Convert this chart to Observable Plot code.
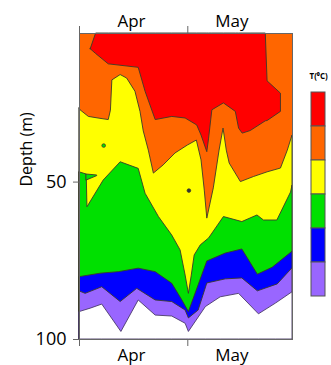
<!DOCTYPE html>
<html><head><meta charset="utf-8">
<script src="https://cdn.jsdelivr.net/npm/d3@7"></script>
<script src="https://cdn.jsdelivr.net/npm/@observablehq/plot@0.6"></script>
<style>
html,body{margin:0;padding:0;background:#fff;overflow:hidden;}
#wrap{position:relative;width:331px;height:365px;}
</style></head><body><div id="wrap"></div>
<script>
// x = days since 1 April, y = depth (m)
const depthDomain = [2.8, 100];
const dayDomain = [0, 59];
const monthStarts = [0, 30];
const monthMid = [14.4, 42.2];
const monthLabels = ["Apr", "May"];
const depthTicks = [50, 100];

// class colours, warmest (top of legend) to coolest
const classColors = ["#ff0000", "#ff6600", "#ffff00", "#00e000", "#0000ff", "#9966ff"];

// warmest (red) region: top and bottom depth along time
const redDay    = [3.1, 4.6, 8.1, 16.4, 18.3, 21.1, 25.7, 29.4, 32.6, 33.8, 35.4, 35.9, 36.8, 40.0, 43.3, 44.2, 45.2, 47.4, 51.6, 52.1, 55.8];
const redTop    = [7.8, 2.8, 2.8, 2.8, 2.8, 2.8, 2.8, 2.8, 2.8, 2.8, 2.8, 2.8, 2.8, 2.8, 2.8, 2.8, 2.8, 2.8, 2.8, 18.0, 21.9];
const redBottom = [7.8, 9.3, 12.6, 13.7, 21.3, 30.3, 29.3, 29.8, 32.0, 35.2, 40.5, 36.2, 27.2, 25.0, 27.7, 33.0, 34.6, 33.8, 30.7, 30.6, 27.7];

// orange / yellow isotherm depth
const yelDay   = [0, 0.3, 2.6, 5.8, 8.1, 8.7, 9.1, 11.4, 13.2, 15.5, 16.9, 17.8, 19.2, 20.6, 23.3, 26.6, 30.0, 32.5, 33.8, 34.7, 35.4, 37.2, 38.8, 39.9, 40.8, 41.6, 44.7, 48.3, 52.1, 55.8, 57.7, 59.0];
const yelDepth = [26.6, 27.2, 29.3, 29.9, 30.3, 27.3, 17.7, 16.0, 17.1, 21.3, 27.7, 33.9, 40.0, 47.3, 44.7, 40.9, 38.4, 36.8, 43.1, 52.7, 61.6, 52.0, 40.0, 33.0, 40.0, 44.1, 50.0, 48.4, 46.9, 45.7, 40.0, 35.2];

// yellow / green isotherm depth
const grnDay   = [0, 2.0, 2.2, 6.7, 11.4, 16.4, 18.3, 22.0, 25.7, 28.0, 29.4, 30.3, 31.1, 31.9, 33.6, 35.9, 40.0, 45.1, 49.3, 51.1, 54.8, 58.6, 59.0];
const grnDepth = [46.9, 47.6, 58.0, 49.5, 43.7, 45.8, 53.7, 61.1, 67.0, 71.7, 79.7, 85.5, 79.7, 73.3, 70.1, 67.9, 61.1, 62.7, 60.6, 62.2, 62.2, 53.3, 51.1];
// small green tongue near the start
const finDay = [2.0, 4.9];
const finTop = [47.6, 47.9];
const finBottom = [49.5, 48.1];

// green / blue isotherm depth
const bluDay   = [0, 5.8, 10.9, 16.4, 21.1, 25.7, 28.5, 30.3, 33.0, 35.4, 40.5, 45.1, 49.4, 53.5, 59.0];
const bluDepth = [80.2, 79.1, 78.6, 77.5, 78.6, 82.3, 87.6, 91.3, 82.8, 75.2, 72.7, 71.4, 79.4, 77.2, 72.1];

// blue / purple isotherm depth
const purDay   = [0, 1.7, 6.3, 11.4, 16.0, 21.1, 25.7, 29.4, 30.3, 33.0, 35.4, 40.5, 45.1, 49.4, 54.9, 59.0];
const purDepth = [84.7, 85.5, 83.4, 88.1, 83.9, 87.6, 88.1, 90.8, 93.3, 90.8, 82.2, 80.9, 80.6, 84.7, 82.5, 77.4];

// deepest measured depth
const botDay   = [0, 3.1, 6.3, 11.6, 16.4, 21.1, 25.7, 29.4, 30.3, 35.0, 39.1, 44.2, 49.7, 54.4, 59.0];
const botDepth = [91.3, 90.2, 88.9, 97.6, 87.6, 92.4, 92.7, 95.0, 97.6, 89.7, 86.6, 85.5, 92.0, 88.6, 85.0];

// isolated small patches
const speckDay = [6.7, 30.3];
const speckDepth = [38.4, 52.7];
const speckClass = ["#00e000", "#333"];

const LINE = "#3a3a2a";
const maxDepth = depthDomain[1];
const band = (xs, tops, bots) => xs.map((x, i) => ({x, t: tops[i], b: bots ? bots[i] : maxDepth}));

const layer = (data, fill) => Plot.areaY(data, {x: "x", y1: "t", y2: "b", fill, stroke: LINE, strokeWidth: 0.9, strokeLinejoin: "round"});

const main = Plot.plot({
  width: 331, height: 365,
  marginLeft: 79, marginRight: 39, marginTop: 33, marginBottom: 26,
  style: {fontFamily: "'Open Sans', sans-serif", fontSize: "18px", color: "#000", background: "transparent", overflow: "visible"},
  x: {domain: dayDomain, axis: null},
  y: {domain: depthDomain, reverse: true, axis: null},
  marks: [
    Plot.frame({fill: classColors[1]}),
    layer(band(redDay, redTop, redBottom), classColors[0]),
    layer(band(yelDay, yelDepth), classColors[2]),
    layer(band(grnDay, grnDepth), classColors[3]),
    layer(band(finDay, finTop, finBottom), classColors[3]),
    layer(band(bluDay, bluDepth), classColors[4]),
    layer(band(purDay, purDepth), classColors[5]),
    Plot.areaY(band(botDay, botDepth), {x: "x", y1: "t", y2: "b", fill: "#ffffff", stroke: "#4a3a6a", strokeWidth: 0.9}),
    Plot.dot(speckDay.map((d, i) => ({d, z: speckDepth[i], c: speckClass[i]})), {x: "d", y: "z", fill: "c", stroke: LINE, strokeWidth: 0.8, r: 1.8}),
    Plot.frame({stroke: "#666", strokeWidth: 1}),
    Plot.axisX({anchor: "top", ticks: monthStarts, tickSize: 8, tickFormat: () => "", stroke: "#666", label: null}),
    Plot.axisX({anchor: "top", ticks: monthMid, tickSize: 0, tickPadding: 7, tickFormat: d => monthLabels[monthMid.indexOf(d)], fontSize: 17, label: null}),
    Plot.axisX({anchor: "bottom", ticks: monthStarts, tickSize: 7, tickFormat: () => "", stroke: "#666", label: null}),
    Plot.axisX({anchor: "bottom", ticks: monthMid, tickSize: 0, tickPadding: 9, tickFormat: d => monthLabels[monthMid.indexOf(d)], fontSize: 17, label: null}),
    Plot.axisY({anchor: "left", ticks: depthTicks, tickSize: 6, tickPadding: 7, tickFormat: d => String(d), fontSize: 18, stroke: "#666", label: null}),
    Plot.text(["Depth (m)"], {frameAnchor: "left", rotate: -90, dx: -53, fontSize: 16})
  ]
});
document.getElementById("wrap").appendChild(main);

const legend = Plot.plot({
  width: 31, height: 245,
  marginLeft: 11, marginRight: 6, marginTop: 29, marginBottom: 7,
  style: {fontFamily: "'Open Sans', sans-serif", background: "transparent", overflow: "visible"},
  x: {domain: ["T"], axis: null, padding: 0},
  y: {domain: d3.range(classColors.length), axis: null, padding: 0},
  color: {type: "identity"},
  marks: [
    Plot.cell(classColors, {x: () => "T", y: (d, i) => i, fill: d => d, stroke: "#555", strokeWidth: 1}),
    Plot.text(["T(⁰C)"], {frameAnchor: "top-left", dx: -2, dy: -16, fontSize: 8, fontWeight: "bold"})
  ]
});
legend.style.position = "absolute";
legend.style.left = "300px";
legend.style.top = "60px";
document.getElementById("wrap").appendChild(legend);
</script></body></html>
